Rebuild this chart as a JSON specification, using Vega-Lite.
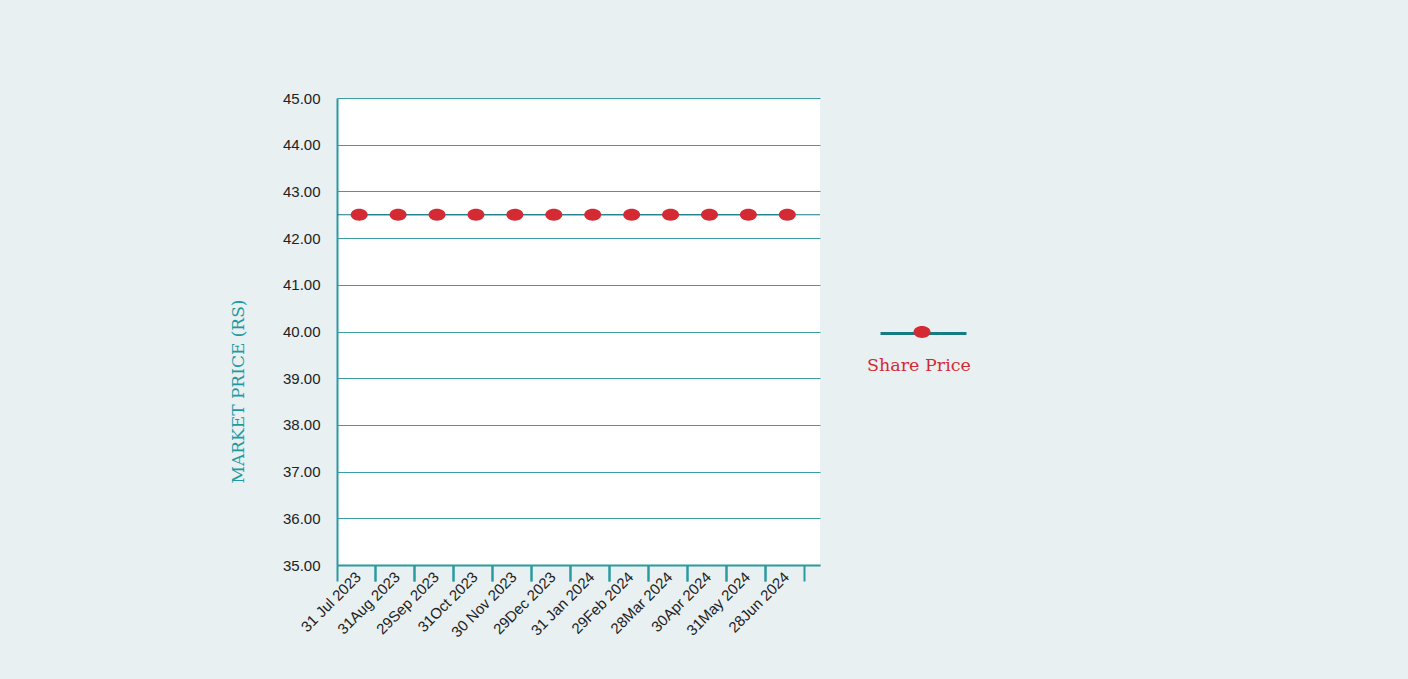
{
  "$schema": "https://vega.github.io/schema/vega-lite/v6.json",
  "width": 483,
  "height": 467,
  "autosize": "none",
  "padding": {"left": 337, "top": 98, "right": 588, "bottom": 114},
  "background": "#e8f0f2",
  "config": {
    "view": {"fill": "#ffffff", "stroke": null},
    "axisY": {
      "domainColor": "#2a9aa0",
      "domainWidth": 2,
      "ticks": false,
      "grid": true,
      "gridColor": "#3a9ea4",
      "gridWidth": 1.2,
      "labelFont": "Liberation Sans",
      "labelFontSize": 15,
      "labelColor": "#222222",
      "labelPadding": 17,
      "titleFont": "DejaVu Serif",
      "titleFontSize": 17,
      "titleFontWeight": "normal",
      "titleColor": "#1e9aa0",
      "titleX": -99,
      "titleY": 293,
      "titleAngle": -90,
      "titleBaseline": "middle",
      "titleAlign": "center"
    },
    "axisX": {
      "domainColor": "#2a9aa0",
      "domainWidth": 2,
      "tickColor": "#2a9aa0",
      "tickWidth": 2,
      "tickSize": 16,
      "grid": false,
      "labelFont": "Liberation Sans",
      "labelFontSize": 15,
      "labelColor": "#222222"
    }
  },
  "data": {
    "values": [
      {"date": "31 Jul 2023", "price": 42.5, "series": "Share Price"},
      {"date": "31Aug 2023", "price": 42.5, "series": "Share Price"},
      {"date": "29Sep 2023", "price": 42.5, "series": "Share Price"},
      {"date": "31Oct 2023", "price": 42.5, "series": "Share Price"},
      {"date": "30 Nov 2023", "price": 42.5, "series": "Share Price"},
      {"date": "29Dec 2023", "price": 42.5, "series": "Share Price"},
      {"date": "31 Jan 2024", "price": 42.5, "series": "Share Price"},
      {"date": "29Feb 2024", "price": 42.5, "series": "Share Price"},
      {"date": "28Mar 2024", "price": 42.5, "series": "Share Price"},
      {"date": "30Apr 2024", "price": 42.5, "series": "Share Price"},
      {"date": "31May 2024", "price": 42.5, "series": "Share Price"},
      {"date": "28Jun 2024", "price": 42.5, "series": "Share Price"}
    ]
  },
  "layer": [
    {
      "mark": {"type": "rule", "strokeWidth": 1},
      "encoding": {
        "y": {
          "field": "price",
          "aggregate": "max",
          "type": "quantitative",
          "title": "MARKET PRICE (RS)",
          "scale": {"domain": [35, 45], "nice": false, "zero": false},
          "axis": {"format": ".2f", "values": [35, 36, 37, 38, 39, 40, 41, 42, 43, 44, 45]}
        },
        "color": {
          "field": "series",
          "type": "nominal",
          "scale": {"range": ["#177b86"]},
          "legend": {
            "orient": "none",
            "legendX": 529,
            "legendY": 191,
            "zindex": 1,
            "symbolType": "stroke",
            "symbolSize": 7396,
            "symbolStrokeWidth": 3,
            "symbolOffset": 13,
            "labelExpr": "''",
            "title": "Share Price",
            "titleOrient": "bottom",
            "titleAnchor": "middle",
            "titleAlign": "center",
            "titleBaseline": "top",
            "titlePadding": 17,
            "titleFont": "DejaVu Serif",
            "titleFontSize": 17.5,
            "titleFontWeight": "normal",
            "titleColor": "#d42a33"
          }
        }
      }
    },
    {
      "mark": {"type": "line", "strokeWidth": 1, "color": "#177b86"},
      "encoding": {
        "x": {
          "field": "date",
          "type": "ordinal",
          "sort": null,
          "bandPosition": 0.57,
          "scale": {"type": "band", "paddingInner": 0, "paddingOuter": 0.205, "align": 0},
          "axis": {
            "orient": "bottom",
            "title": null,
            "bandPosition": 0,
            "labelAngle": -45,
            "labelAlign": "right",
            "labelBaseline": "middle",
            "labelOffset": 2,
            "labelPadding": -7
          }
        },
        "y": {
          "field": "price",
          "type": "quantitative",
          "title": "MARKET PRICE (RS)",
          "axis": {"format": ".2f", "values": [35, 36, 37, 38, 39, 40, 41, 42, 43, 44, 45]}
        }
      }
    },
    {
      "mark": {
        "type": "point",
        "filled": true,
        "opacity": 1,
        "size": 289,
        "shape": "M -1 0 A 1 0.7 0 1 0 1 0 A 1 0.7 0 1 0 -1 0 Z"
      },
      "encoding": {
        "x": {
          "field": "date",
          "type": "ordinal",
          "sort": null,
          "bandPosition": 0.57,
          "axis": {
            "orient": "bottom",
            "title": null,
            "bandPosition": 1,
            "labels": false,
            "domain": false
          }
        },
        "y": {
          "field": "price",
          "type": "quantitative",
          "title": "MARKET PRICE (RS)",
          "axis": {"format": ".2f", "values": [35, 36, 37, 38, 39, 40, 41, 42, 43, 44, 45]}
        },
        "fill": {
          "field": "series",
          "type": "nominal",
          "scale": {"range": ["#d42a33"]},
          "legend": {
            "orient": "none",
            "legendX": 576.5,
            "legendY": 225.5,
            "zindex": 2,
            "symbolType": "M -1 0 A 1 0.7 0 1 0 1 0 A 1 0.7 0 1 0 -1 0 Z",
            "symbolSize": 289,
            "symbolStrokeWidth": 0,
            "symbolOpacity": 1,
            "labelExpr": "''",
            "title": null
          }
        }
      }
    }
  ],
  "resolve": {"axis": {"x": "independent"}}
}
